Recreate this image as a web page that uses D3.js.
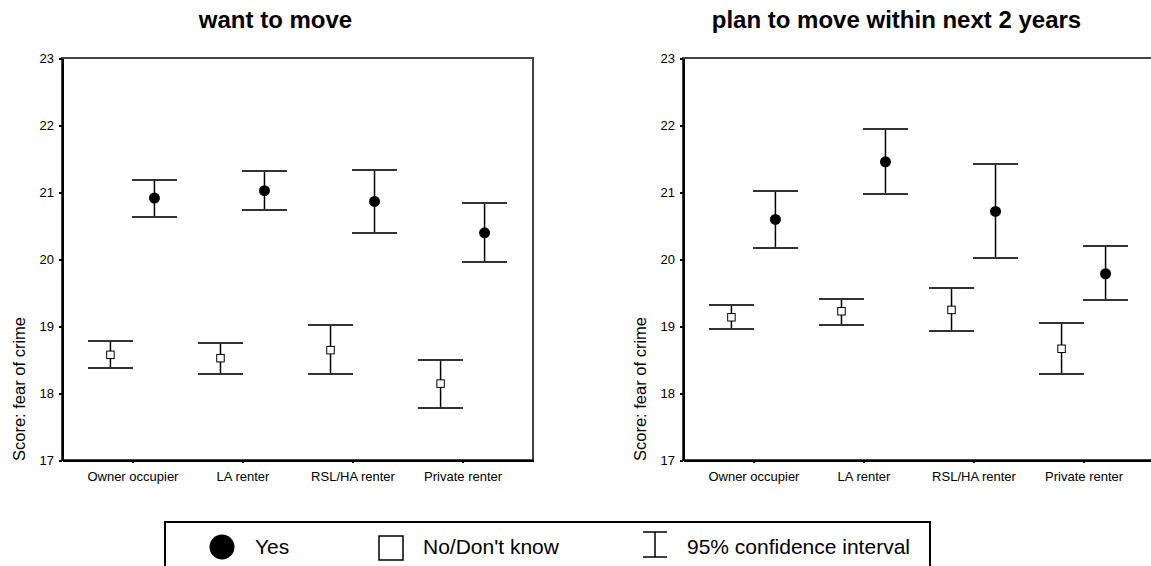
<!DOCTYPE html>
<meta charset="utf-8">
<style>
body { margin: 0; background: #fff; }
svg { font-family: "Liberation Sans", Arial, sans-serif; }
.axis path, .axis line { stroke: #000; stroke-width: 2; shape-rendering: crispEdges; }
.axis text { font-size: 13px; fill: #000; }
.frame { fill: none; stroke: #444; stroke-width: 2; shape-rendering: crispEdges; }
.bar { stroke: #000; stroke-width: 1.5; }
.cap { stroke: #333; stroke-width: 2; shape-rendering: crispEdges; }
.title { font-size: 24px; font-weight: bold; }
.ylabel { font-size: 16.5px; }
.legend text { font-size: 21px; }
</style>
<svg width="1151" height="566"></svg>
<script src="https://d3js.org/d3.v7.min.js"></script>
<script>

var categories = ["Owner occupier", "LA renter", "RSL/HA renter", "Private renter"];
var yTicks = [17, 18, 19, 20, 21, 22, 23];
var panelTitles = ["want to move", "plan to move within next 2 years"];

// want to move
var wantYesMean = [20.91, 21.02, 20.86, 20.39];
var wantYesLow  = [20.63, 20.73, 20.39, 19.96];
var wantYesHigh = [21.18, 21.31, 21.33, 20.84];
var wantNoMean  = [18.57, 18.52, 18.64, 18.14];
var wantNoLow   = [18.38, 18.28, 18.28, 17.78];
var wantNoHigh  = [18.78, 18.74, 19.01, 18.50];

// plan to move within next 2 years
var planYesMean = [20.59, 21.45, 20.71, 19.78];
var planYesLow  = [20.16, 20.97, 20.01, 19.39];
var planYesHigh = [21.02, 21.94, 21.42, 20.20];
var planNoMean  = [19.13, 19.22, 19.24, 18.66];
var planNoLow   = [18.95, 19.02, 18.92, 18.29];
var planNoHigh  = [19.31, 19.40, 19.57, 19.04];

var legendLabels = ["Yes", "No/Don't know", "95% confidence interval"];

var svg = d3.select("svg");

var panels = [
  { title: panelTitles[0], left: 62, yes: [wantYesMean, wantYesLow, wantYesHigh], no: [wantNoMean, wantNoLow, wantNoHigh] },
  { title: panelTitles[1], left: 683, yes: [planYesMean, planYesLow, planYesHigh], no: [planNoMean, planNoLow, planNoHigh] }
];

var panelW = 471, plotTop = 58, plotBottom = 460;
var offset = 22, capHalf = 22.5;

var y = d3.scaleLinear().domain([17, 23]).range([plotBottom, plotTop]);

panels.forEach(function(p) {
  var g = svg.append("g");
  var x = d3.scalePoint()
      .domain(categories)
      .range([p.left, p.left + panelW])
      .padding(0.64);

  // frame (top and right edges)
  g.append("rect")
      .attr("class", "frame")
      .attr("x", p.left)
      .attr("y", plotTop)
      .attr("width", panelW)
      .attr("height", plotBottom - plotTop);

  g.append("g")
      .attr("class", "axis")
      .attr("transform", "translate(" + p.left + ",0)")
      .call(d3.axisLeft(y).tickValues(yTicks).tickFormat(d3.format("d"))
        .tickSize(3).tickSizeOuter(0).tickPadding(5));

  g.append("g")
      .attr("class", "axis")
      .attr("transform", "translate(0," + plotBottom + ")")
      .call(d3.axisBottom(x).tickSize(3).tickSizeOuter(0).tickPadding(9));

  g.append("text")
      .attr("class", "title")
      .attr("x", p.left + panelW / 2 - 22)
      .attr("y", 28)
      .attr("text-anchor", "middle")
      .text(p.title);

  g.append("text")
      .attr("class", "ylabel")
      .attr("transform", "translate(" + (p.left - 37) + "," + (plotBottom + 1) + ") rotate(-90)")
      .text("Score: fear of crime");

  function drawSeries(series, dx, isYes) {
    var sg = g.append("g");
    categories.forEach(function(c, i) {
      var cx = x(c) + dx;
      sg.append("line").attr("class", "bar")
          .attr("x1", cx).attr("x2", cx)
          .attr("y1", y(series[1][i])).attr("y2", y(series[2][i]));
      sg.append("line").attr("class", "cap")
          .attr("x1", cx - capHalf).attr("x2", cx + capHalf)
          .attr("y1", y(series[2][i])).attr("y2", y(series[2][i]));
      sg.append("line").attr("class", "cap")
          .attr("x1", cx - capHalf).attr("x2", cx + capHalf)
          .attr("y1", y(series[1][i])).attr("y2", y(series[1][i]));
      if (isYes) {
        sg.append("circle")
            .attr("cx", cx).attr("cy", y(series[0][i])).attr("r", 5.5)
            .attr("fill", "#000");
      } else {
        sg.append("rect")
            .attr("x", cx - 3.75).attr("y", y(series[0][i]) - 3.75)
            .attr("width", 7.5).attr("height", 7.5)
            .attr("fill", "#fff").attr("stroke", "#000").attr("stroke-width", 1);
      }
    });
  }

  drawSeries(p.no, -offset, false);
  drawSeries(p.yes, offset, true);
});

// legend
var lg = svg.append("g").attr("class", "legend");
lg.append("rect")
    .attr("x", 165).attr("y", 522)
    .attr("width", 765).attr("height", 60)
    .attr("fill", "none").attr("stroke", "#000").attr("stroke-width", 2);

lg.append("circle").attr("cx", 222).attr("cy", 547).attr("r", 12.5).attr("fill", "#000");
lg.append("text").attr("x", 255).attr("y", 554).text(legendLabels[0]);

lg.append("rect").attr("x", 379).attr("y", 536).attr("width", 24).attr("height", 24)
    .attr("fill", "#fff").attr("stroke", "#000").attr("stroke-width", 1.5);
lg.append("text").attr("x", 423).attr("y", 554).text(legendLabels[1]);

lg.append("line").attr("x1", 655).attr("x2", 655).attr("y1", 532).attr("y2", 557).attr("stroke", "#000").attr("stroke-width", 1.5);
lg.append("line").attr("x1", 643).attr("x2", 667).attr("y1", 532).attr("y2", 532).attr("stroke", "#000").attr("stroke-width", 1.5);
lg.append("line").attr("x1", 643).attr("x2", 667).attr("y1", 557).attr("y2", 557).attr("stroke", "#000").attr("stroke-width", 1.5);
lg.append("text").attr("x", 687).attr("y", 554).text(legendLabels[2]);

</script>
